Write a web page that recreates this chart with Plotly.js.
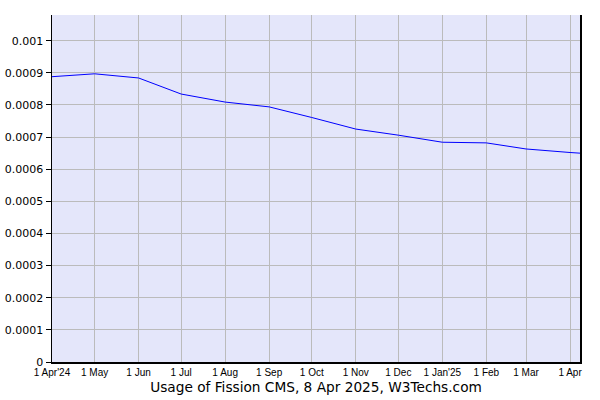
<!DOCTYPE html>
<html>
<head>
<meta charset="utf-8">
<script src="https://cdn.plot.ly/plotly-3.0.1.min.js"></script>
<style>html,body{margin:0;padding:0;background:#fff;}#chart{width:600px;height:400px;}</style>
</head>
<body>
<div id="chart"></div>
<script>
const dates = ["2024-04-01","2024-05-01","2024-06-01","2024-07-01","2024-08-01","2024-09-01","2024-10-01","2024-11-01","2024-12-01","2025-01-01","2025-02-01","2025-03-01","2025-04-01","2025-04-08"];
const usage = [0.000888,0.000897,0.000884,0.000834,0.000809,0.000794,0.000761,0.000725,0.000706,0.000684,0.000682,0.000663,0.000652,0.000650];
const tickDates = ["2024-04-01","2024-05-01","2024-06-01","2024-07-01","2024-08-01","2024-09-01","2024-10-01","2024-11-01","2024-12-01","2025-01-01","2025-02-01","2025-03-01","2025-04-01"];
const tickLabels = ["1 Apr'24","1 May","1 Jun","1 Jul","1 Aug","1 Sep","1 Oct","1 Nov","1 Dec","1 Jan'25","1 Feb","1 Mar","1 Apr"];
const yTicks = [0,0.0001,0.0002,0.0003,0.0004,0.0005,0.0006,0.0007,0.0008,0.0009,0.001];
const yLabels = ["0","0.0001","0.0002","0.0003","0.0004","0.0005","0.0006","0.0007","0.0008","0.0009","0.001"];
const titleText = "Usage of Fission CMS, 8 Apr 2025, W3Techs.com";

Plotly.newPlot("chart", [{
  x: dates, y: usage, type: "scatter", mode: "lines",
  line: {color: "#0000ff", width: 1}, hoverinfo: "skip"
}], {
  width: 600, height: 400,
  margin: {l: 52, r: 20, t: 15, b: 38},
  paper_bgcolor: "#ffffff",
  plot_bgcolor: "#e4e6fa",
  showlegend: false,
  xaxis: {
    type: "date",
    range: ["2024-04-01", "2025-04-08"],
    tickmode: "array", tickvals: tickDates, ticktext: tickLabels,
    tickfont: {family: "Liberation Sans, Arial, sans-serif", size: 10, color: "#000"},
    ticks: "", ticklen: 0,
    showgrid: true, gridcolor: "#bbbbbb", gridwidth: 1,
    showline: true, linecolor: "#000", linewidth: 1.5,
    zeroline: false,
    title: {text: titleText, font: {family: "DejaVu Sans, Verdana, sans-serif", size: 13.7, color: "#000"}, standoff: 6}
  },
  yaxis: {
    range: [0, 0.00108],
    tickmode: "array", tickvals: yTicks, ticktext: yLabels,
    tickfont: {family: "DejaVu Sans, Verdana, sans-serif", size: 11, color: "#000"},
    ticks: "outside", ticklen: 5, tickcolor: "#000", tickwidth: 1,
    showgrid: true, gridcolor: "#bbbbbb", gridwidth: 1,
    showline: true, linecolor: "#000", linewidth: 1.5, mirror: true,
    zeroline: false
  }
}, {staticPlot: true, displayModeBar: false});
</script>
</body>
</html>
